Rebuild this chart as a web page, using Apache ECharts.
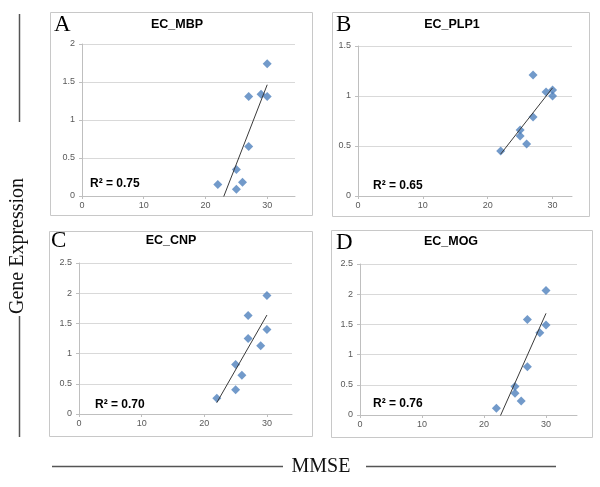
<!DOCTYPE html>
<html>
<head>
<meta charset="utf-8">
<style>html,body{margin:0;padding:0;background:#fff;}#c{width:600px;height:487px;}</style>
<script src="https://cdn.jsdelivr.net/npm/echarts@6/dist/echarts.min.js"></script>
</head>
<body>
<div id="c"></div>
<script>
// ---- data ----
const panelNames = ['EC_MBP', 'EC_PLP1', 'EC_CNP', 'EC_MOG'];
const panelLetters = ['A', 'B', 'C', 'D'];
const r2Labels = ['R\u00B2 = 0.75', 'R\u00B2 = 0.65', 'R\u00B2 = 0.70', 'R\u00B2 = 0.76'];
const mmse = [22, 25, 25, 26, 27, 27, 29, 30, 30];
const mbp  = [0.15, 0.35, 0.09, 0.18, 1.31, 0.65, 1.34, 1.31, 1.74];
const plp1 = [0.45, 0.66, 0.60, 0.52, 1.21, 0.79, 1.04, 1.06, 1.00];
const cnp  = [0.26, 0.82, 0.40, 0.64, 1.63, 1.25, 1.13, 1.96, 1.40];
const mog  = [0.11, 0.47, 0.36, 0.23, 1.58, 0.80, 1.36, 2.06, 1.49];
const yMaxes = [2, 1.5, 2.5, 2.5];
const xTickValues = [0, 10, 20, 30];
const xAxisTitle = 'MMSE';
const yAxisTitle = 'Gene Expression';

const values = [mbp, plp1, cnp, mog];

// ---- layout ----
const grids = [
  {left: 82, top: 44, width: 213, height: 152},
  {left: 358, top: 46, width: 214, height: 150},
  {left: 79, top: 263, width: 213, height: 151},
  {left: 360, top: 264, width: 217, height: 151}
];
const xMaxes = [34.5, 33, 34, 35];
const boxes = [
  {x: 50, y: 12, w: 262, h: 203},
  {x: 332, y: 12, w: 257, h: 204},
  {x: 49, y: 231, w: 263, h: 205},
  {x: 331, y: 230, w: 261, h: 207}
];
const titlePos = [[177, 18], [452, 18], [171, 234], [451, 235]];
const letterPos = [[54, 13], [336, 13], [51, 229], [336, 231]];
const r2Pos = [[90, 178], [373, 180], [95, 399], [373, 398]];

function fit(xs, ys) {
  const n = xs.length;
  const mx = xs.reduce((a, b) => a + b, 0) / n;
  const my = ys.reduce((a, b) => a + b, 0) / n;
  let sxy = 0, sxx = 0;
  for (let i = 0; i < n; i++) { sxy += (xs[i] - mx) * (ys[i] - my); sxx += (xs[i] - mx) ** 2; }
  const b = sxy / sxx, a = my - b * mx;
  const x0 = Math.min(...xs), x1 = Math.max(...xs);
  return [[x0, a + b * x0], [x1, a + b * x1]];
}

const sans = 'Liberation Sans, Arial, sans-serif';
const serif = 'Liberation Serif, Times New Roman, serif';

const option = {
  animation: false,
  backgroundColor: '#fff',
  grid: grids.map(g => Object.assign({containLabel: false}, g)),
  xAxis: grids.map((g, i) => ({
    type: 'value', gridIndex: i, min: 0, max: xMaxes[i],
    axisLine: {show: true, onZero: false, lineStyle: {color: '#bfbfbf', width: 1}},
    axisTick: {show: true, length: 3, customValues: xTickValues, lineStyle: {color: '#bfbfbf'}},
    axisLabel: {customValues: xTickValues, color: '#595959', fontSize: 9, fontFamily: sans, margin: 5},
    splitLine: {show: false}
  })),
  yAxis: grids.map((g, i) => ({
    type: 'value', gridIndex: i, min: 0, max: yMaxes[i], interval: 0.5,
    axisLine: {show: true, lineStyle: {color: '#bfbfbf', width: 1}},
    axisTick: {show: true, length: 3, lineStyle: {color: '#bfbfbf'}},
    axisLabel: {color: '#595959', fontSize: 9, fontFamily: sans, margin: 7},
    splitLine: {show: true, lineStyle: {color: '#d9d9d9', width: 1}}
  })),
  title: [].concat(
    panelNames.map((t, i) => ({
      text: t, left: titlePos[i][0], top: titlePos[i][1], textAlign: 'center',
      textStyle: {fontSize: 12.5, fontWeight: 'bold', fontFamily: sans, color: '#000'}, padding: 0
    })),
    panelLetters.map((t, i) => ({
      text: t, left: letterPos[i][0], top: letterPos[i][1], padding: 0,
      textStyle: {fontSize: 23, fontWeight: 'normal', fontFamily: serif, color: '#000'}
    })),
    r2Labels.map((t, i) => ({
      text: t, left: r2Pos[i][0], top: r2Pos[i][1], padding: 0,
      textStyle: {fontSize: 12, fontWeight: 'bold', fontFamily: sans, color: '#000'}
    }))
  ),
  series: [].concat(
    values.map((ys, i) => ({
      type: 'scatter', xAxisIndex: i, yAxisIndex: i, symbol: 'diamond', symbolSize: 9,
      itemStyle: {color: '#4f81bd'},
      data: mmse.map((x, k) => [x, ys[k]]), z: 3
    })),
    values.map((ys, i) => ({
      type: 'line', xAxisIndex: i, yAxisIndex: i, symbol: 'none', clip: true,
      lineStyle: {color: '#3a3a3a', width: 1},
      data: fit(mmse, ys), z: 4
    }))
  ),
  graphic: [].concat(
    boxes.map(b => ({
      type: 'rect', shape: {x: b.x + 0.5, y: b.y + 0.5, width: b.w, height: b.h},
      style: {fill: 'none', stroke: '#c8c8c8', lineWidth: 1}, z: -1
    })),
    [
      {type: 'line', shape: {x1: 19.5, y1: 14, x2: 19.5, y2: 122}, style: {stroke: '#555', lineWidth: 1.5}},
      {type: 'line', shape: {x1: 19.5, y1: 316, x2: 19.5, y2: 437}, style: {stroke: '#555', lineWidth: 1.5}},
      {type: 'text', x: 18, y: 246, rotation: Math.PI / 2,
        style: {text: yAxisTitle, font: '20px ' + serif, fill: '#111', align: 'center', verticalAlign: 'middle'}},
      {type: 'line', shape: {x1: 52, y1: 466.5, x2: 283, y2: 466.5}, style: {stroke: '#555', lineWidth: 1.5}},
      {type: 'line', shape: {x1: 366, y1: 466.5, x2: 556, y2: 466.5}, style: {stroke: '#555', lineWidth: 1.5}},
      {type: 'text', x: 321, y: 467,
        style: {text: xAxisTitle, font: '20px ' + serif, fill: '#111', align: 'center', verticalAlign: 'middle'}}
    ]
  )
};

echarts.init(document.getElementById('c'), null, {renderer: 'canvas'}).setOption(option);
</script>
</body>
</html>
